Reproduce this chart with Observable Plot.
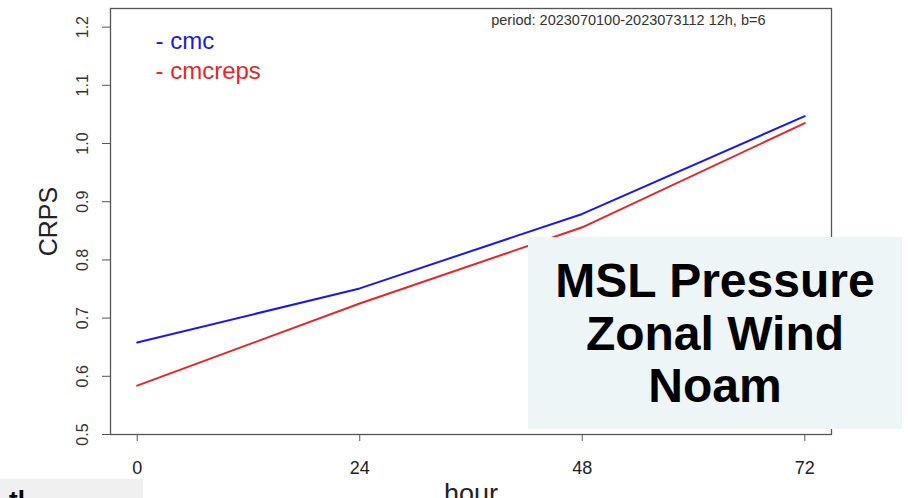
<!DOCTYPE html>
<html><head><meta charset="utf-8">
<script src="https://cdn.jsdelivr.net/npm/d3@7"></script>
<script src="https://cdn.jsdelivr.net/npm/@observablehq/plot@0.6"></script>
<style>
html,body{margin:0;padding:0;background:#fff;overflow:hidden;}
#wrap{position:relative;width:908px;height:498px;overflow:hidden;}
#wrap svg{display:block;}
.overlay{position:absolute;left:528px;top:237px;width:374px;height:192px;background:#eef5f7;
  font-family:"Liberation Sans",Arial,sans-serif;font-weight:bold;font-size:48px;line-height:52.5px;
  color:#000;text-align:center;box-sizing:border-box;padding-top:18px;}
.corner{position:absolute;left:0;top:479px;width:143px;height:19px;background:#f0f0f0;overflow:hidden;
  font-family:"Liberation Sans",Arial,sans-serif;font-weight:bold;font-size:26px;color:#000;}
.corner span{position:absolute;left:9px;top:8px;line-height:26px;}
</style>
</head><body>
<div id="wrap"></div>
<script>
const hours = [0, 24, 48, 72];
const cmc = [0.658, 0.751, 0.879, 1.047];
const cmcreps = [0.584, 0.725, 0.856, 1.035];
const series = ["cmc", "cmcreps"];
const colors = ["#1a1ae6", "#e6262b"];
const xTicks = [0, 24, 48, 72];
const yTicks = [0.5, 0.6, 0.7, 0.8, 0.9, 1.0, 1.1, 1.2];
const periodText = "period: 2023070100-2023073112 12h, b=6";
const yLabel = "CRPS";
const xLabel = "hour";
const overlayLines = ["MSL Pressure", "Zonal Wind", "Noam"];
const cornerText = "tl";

const values = {cmc, cmcreps};
const rows = series.flatMap(s => hours.map((h, i) => ({series: s, hour: h, crps: values[s][i]})));

const font = "Liberation Sans, Arial, sans-serif";
const chart = Plot.plot({
  width: 908, height: 498,
  marginLeft: 110, marginRight: 77, marginTop: 8, marginBottom: 64,
  x: {domain: [-2.88, 74.88]},
  y: {domain: [0.5, 1.232]},
  color: {domain: series, range: colors},
  style: {fontFamily: font, background: "#fff", color: "#222"},
  marks: [
    Plot.frame({stroke: "#555", strokeWidth: 1.3}),
    Plot.axisY(yTicks, {tickSize: 8, tickFormat: () => "", label: null, stroke: "#555"}),
    Plot.text(yTicks, {y: d => d, text: d => d.toFixed(1), frameAnchor: "left", textAnchor: "middle", dx: -28, rotate: -90, fontSize: 16, fill: "#333"}),
    Plot.axisX(xTicks, {tickSize: 7, tickPadding: 20, fontSize: 18, label: null, stroke: "#555", fill: "#222"}),
    Plot.text([yLabel], {frameAnchor: "left", textAnchor: "middle", dx: -62, rotate: -90, fontSize: 25, fill: "#222"}),
    Plot.text([xLabel], {frameAnchor: "bottom", dy: 68, lineAnchor: "bottom", fontSize: 27, fill: "#222"}),
    Plot.text([periodText], {frameAnchor: "top-right", dx: -66, dy: 16, textAnchor: "end", lineAnchor: "bottom", fontSize: 14.5, fill: "#333"}),
    Plot.line(rows, {x: "hour", y: "crps", stroke: "series", z: "series", strokeWidth: 2}),
    ...series.map((s, i) => Plot.text([s], {text: d => "- " + d, fill: () => s, frameAnchor: "top-left", dx: 45, dy: 40 + 30 * i, textAnchor: "start", lineAnchor: "bottom", fontSize: 24}))
  ]
});
const wrap = document.getElementById("wrap");
wrap.appendChild(chart);
const ov = document.createElement("div");
ov.className = "overlay";
ov.innerHTML = overlayLines.map(t => `<div>${t}</div>`).join("");
wrap.appendChild(ov);
const corner = document.createElement("div");
corner.className = "corner";
corner.innerHTML = `<span>${cornerText}</span>`;
wrap.appendChild(corner);
</script>
</body></html>
